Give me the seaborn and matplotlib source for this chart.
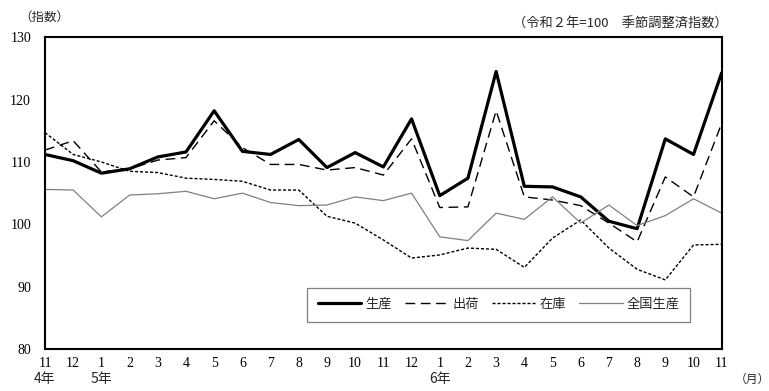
import numpy as np
import pandas as pd
import matplotlib
matplotlib.use("Agg")
import matplotlib.pyplot as plt
import seaborn as sns

# 令和4年11月 ～ 令和6年11月
months = [11, 12, 1, 2, 3, 4, 5, 6, 7, 8, 9, 10, 11, 12,
          1, 2, 3, 4, 5, 6, 7, 8, 9, 10, 11]
year_labels = {0: "4年", 2: "5年", 14: "6年"}

seisan = [111.2, 110.2, 108.2, 108.9, 110.8, 111.6, 118.2, 111.7, 111.2, 113.6,
          109.1, 111.5, 109.2, 116.9, 104.6, 107.4, 124.5, 106.1, 106.0, 104.4,
          100.5, 99.3, 113.7, 111.2, 124.3]
shukka = [111.9, 113.4, 108.4, 108.9, 110.3, 110.7, 116.6, 112.3, 109.6, 109.6,
          108.7, 109.1, 107.9, 113.7, 102.7, 102.8, 118.2, 104.4, 103.9, 103.0,
          100.2, 97.2, 107.6, 104.4, 116.2]
zaiko = [114.7, 111.2, 110.0, 108.5, 108.3, 107.4, 107.2, 106.9, 105.5, 105.5,
         101.3, 100.2, 97.5, 94.6, 95.1, 96.2, 96.0, 93.1, 97.8, 100.7,
         96.2, 92.8, 91.1, 96.7, 96.8]
zenkoku = [105.6, 105.5, 101.2, 104.7, 104.9, 105.3, 104.1, 105.0, 103.5, 103.0,
           103.1, 104.4, 103.8, 105.0, 98.0, 97.4, 101.8, 100.8, 104.4, 100.2,
           103.1, 99.8, 101.4, 104.1, 101.8]

x = np.arange(len(months))
df = pd.DataFrame({"x": x, "生産": seisan, "出荷": shukka,
                   "在庫": zaiko, "全国生産": zenkoku})

sns.set_style("white")
plt.rcParams['font.family'] = ['Liberation Serif', 'Noto Sans CJK JP', 'DejaVu Sans']

fig = plt.figure(figsize=(7.69, 3.91), dpi=100)
ax = fig.add_axes([0.0585, 0.107, 0.880, 0.798])

jp = ['Noto Sans CJK JP', 'DejaVu Sans']

sns.lineplot(data=df, x="x", y="生産", ax=ax, color="black", lw=2.3, label="生産")
sns.lineplot(data=df, x="x", y="出荷", ax=ax, color="black", lw=1.0,
             label="出荷").lines[-1].set_dashes([7, 4])
sns.lineplot(data=df, x="x", y="在庫", ax=ax, color="black", lw=1.0,
             label="在庫").lines[-1].set_dashes([2.2, 1.4])
sns.lineplot(data=df, x="x", y="全国生産", ax=ax, color="#808080", lw=0.9,
             label="全国生産")

ax.set_xlim(0, 24)
ax.set_ylim(80, 130)
ax.set_yticks([80, 90, 100, 110, 120, 130])
ax.set_xticks(x)
ax.set_xticklabels([str(m) for m in months], fontsize=10)
ax.tick_params(axis="both", direction="in", length=4, width=0.8, colors="black",
               labelsize=10, pad=6)
ax.tick_params(axis="y", pad=10)
for s in ax.spines.values():
    s.set_visible(True)
    s.set_linewidth(1.5)
    s.set_color("black")
ax.set_xlabel("")
ax.set_ylabel("")

for i, t in year_labels.items():
    ax.text(i, -0.095, t, transform=ax.get_xaxis_transform(), ha="center",
            va="center", fontsize=10, family=jp)

fig.text(0.025, 0.955, "（指数）", fontsize=9, family=jp, va="center")
fig.text(0.946, 0.938, "（令和２年=100　季節調整済指数）", fontsize=9.5,
         family=jp, ha="right", va="center")
fig.text(0.955, 0.03, "（月）", fontsize=8.5, family=jp, ha="left", va="center")

leg = ax.legend(loc="lower left", bbox_to_anchor=(0.378, 0.067, 0.585, 0.109),
                mode="expand", ncol=4, frameon=True, fancybox=False,
                handlelength=3.3, handletextpad=0.3, borderpad=0.8,
                prop={"family": jp, "size": 9.5})
leg.get_frame().set_edgecolor("#606060")
leg.get_frame().set_linewidth(0.9)

fig.savefig("out.png", dpi=100)
